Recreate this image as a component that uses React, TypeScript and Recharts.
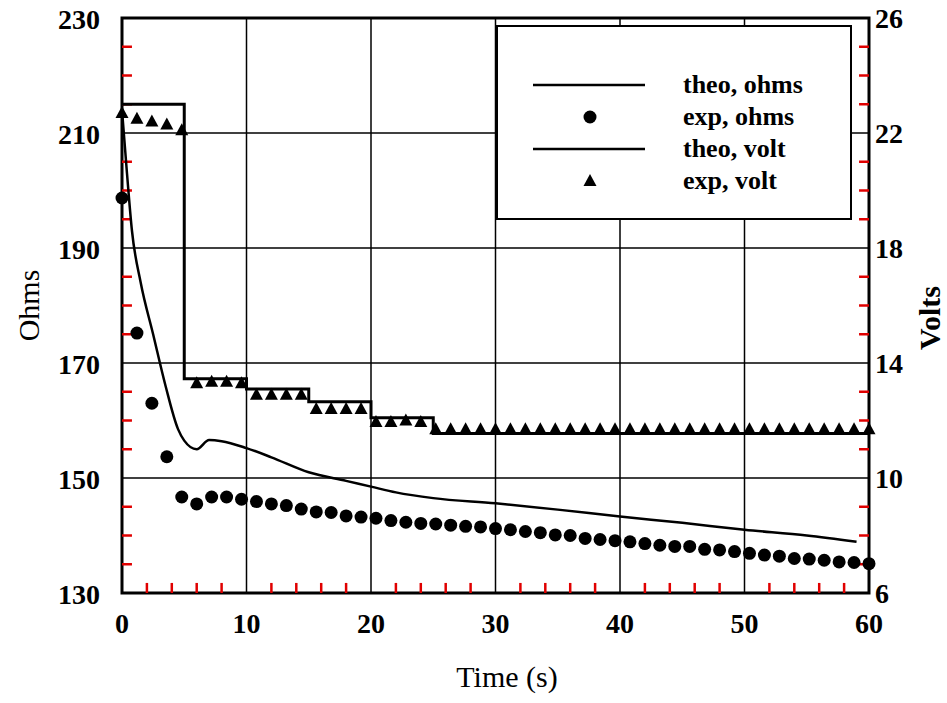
import React from 'react';
import { ComposedChart, Line, Scatter, XAxis, YAxis, ReferenceLine, ReferenceArea, Legend } from 'recharts';

const serif = '"Liberation Serif", "Times New Roman", serif';

// time (s) of the measured points
const expTimes = [
  0, 1.2, 2.4, 3.6, 4.8, 6, 7.2, 8.4, 9.6, 10.8,
  12, 13.2, 14.4, 15.6, 16.8, 18, 19.2, 20.4, 21.6, 22.8,
  24, 25.2, 26.4, 27.6, 28.8, 30, 31.2, 32.4, 33.6, 34.8,
  36, 37.2, 38.4, 39.6, 40.8, 42, 43.2, 44.4, 45.6, 46.8,
  48, 49.2, 50.4, 51.6, 52.8, 54, 55.2, 56.4, 57.6, 58.8, 60,
];
const expOhms = [
  198.7, 175.2, 163.0, 153.7, 146.7, 145.5, 146.7, 146.7, 146.3, 145.9,
  145.5, 145.2, 144.6, 144.1, 144.0, 143.4, 143.2, 143.0, 142.6, 142.3,
  142.1, 142.0, 141.8, 141.6, 141.5, 141.2, 141.0, 140.7, 140.5, 140.1,
  140.0, 139.5, 139.3, 139.1, 138.9, 138.6, 138.3, 138.1, 138.1, 137.6,
  137.5, 137.2, 136.9, 136.6, 136.4, 136.0, 135.9, 135.7, 135.4, 135.3, 135.1,
];
const expVolts = [
  22.7, 22.5, 22.4, 22.3, 22.1, 13.3, 13.35, 13.35, 13.3, 12.9,
  12.9, 12.9, 12.9, 12.4, 12.4, 12.4, 12.4, 11.95, 11.95, 12.0,
  11.95, 11.7, 11.7, 11.7, 11.7, 11.7, 11.7, 11.7, 11.7, 11.7,
  11.7, 11.7, 11.7, 11.7, 11.7, 11.7, 11.7, 11.7, 11.7, 11.7,
  11.7, 11.7, 11.7, 11.7, 11.7, 11.7, 11.7, 11.7, 11.7, 11.7, 11.7,
];

// theoretical curves
const theoOhmTimes = [0, 0.4, 0.8, 1.5, 2.5, 3.5, 4.5, 5, 6, 7, 8, 10, 12, 15, 18, 20, 22, 25, 30, 35, 40, 45, 50, 55, 59];
const theoOhms = [214, 203, 193, 184, 175, 166, 158.5, 156.5, 155, 156.6, 156.4, 155.2, 153.6, 151, 149.5, 148.5, 147.5, 146.5, 145.6, 144.5, 143.3, 142.2, 141, 140, 138.9];
const theoVoltTimes = [0, 5, 10, 15, 20, 25, 60];
const theoVolts = [23, 13.45, 13.1, 12.65, 12.1, 11.55, 11.55];

// axes
const xLabels = [0, 10, 20, 30, 40, 50, 60];
const xMinor = [2, 4, 6, 8, 12, 14, 16, 18, 22, 24, 26, 28, 32, 34, 36, 38, 42, 44, 46, 48, 52, 54, 56, 58];
const ohmLabels = [130, 150, 170, 190, 210, 230];
const ohmMinor = [135, 140, 145, 155, 160, 165, 175, 180, 185, 195, 200, 205, 215, 220, 225];
const voltLabels = [6, 10, 14, 18, 22, 26];
const voltMinor = [7, 8, 9, 11, 12, 13, 15, 16, 17, 19, 20, 21, 23, 24, 25];
const gridX = [10, 20, 30, 40, 50];
const gridOhm = [150, 170, 190, 210];
const legendNames = ['theo, ohms', 'exp, ohms', 'theo, volt', 'exp, volt'];

const expOhmData = expTimes.map((t, i) => ({ t, ohm: expOhms[i] }));
const expVoltData = expTimes.map((t, i) => ({ t, volt: expVolts[i] }));
const theoOhmData = theoOhmTimes.map((t, i) => ({ t, ohm: theoOhms[i] }));
const theoVoltData = theoVoltTimes.map((t, i) => ({ t, volt: theoVolts[i] }));

// minor tick length in axis units (about 10 px)
const TICK_T = 0.8;
const TICK_OHM = 1.75;
const TICK_COLOR = '#e00000';

const labelStyle = { fontFamily: serif, fontSize: 28, fontWeight: 700, fill: '#000' };

function LeftTick(props: any) {
  const { x, y, payload } = props;
  return <text x={x} y={y + 11} textAnchor="end" style={labelStyle}>{payload.value}</text>;
}

function RightTick(props: any) {
  const { x, y, payload } = props;
  return <text x={x} y={y + 10} textAnchor="start" style={labelStyle}>{payload.value}</text>;
}

function BottomTick(props: any) {
  const { x, y, payload } = props;
  return <text x={x} y={y} textAnchor="middle" style={labelStyle}>{payload.value}</text>;
}

function AxisTitle(props: any) {
  const { viewBox, text, dx, dy, rotate, bold } = props;
  const cx = viewBox.x + (dx ?? viewBox.width / 2);
  const cy = viewBox.y + (dy ?? viewBox.height / 2);
  return (
    <text
      x={cx}
      y={cy}
      textAnchor="middle"
      dominantBaseline={rotate ? 'central' : 'auto'}
      transform={rotate ? `rotate(-90, ${cx}, ${cy})` : undefined}
      style={{ fontFamily: serif, fontSize: 30, fontWeight: bold ? 700 : 400, fill: '#000' }}
    >
      {text}
    </text>
  );
}

function Dot(props: any) {
  const { cx, cy } = props;
  return <circle cx={cx} cy={cy} r={6.5} fill="#000" />;
}

function Tri(props: any) {
  const { cx, cy } = props;
  return <polygon points={`${cx},${cy - 7} ${cx + 6.5},${cy + 5} ${cx - 6.5},${cy + 5}`} fill="#000" />;
}

function LegendBox() {
  const rows = [60, 92, 124, 156];
  return (
    <svg width={356} height={195} style={{ display: 'block' }}>
      <rect x={1} y={1} width={354} height={193} fill="#fff" stroke="#000" strokeWidth={2} />
      <line x1={37} x2={149} y1={rows[0]} y2={rows[0]} stroke="#000" strokeWidth={2.5} />
      <circle cx={94} cy={rows[1]} r={6.5} fill="#000" />
      <line x1={37} x2={149} y1={rows[2]} y2={rows[2]} stroke="#000" strokeWidth={2.5} />
      <polygon points={`94,${rows[3] - 7} 100.5,${rows[3] + 5} 87.5,${rows[3] + 5}`} fill="#000" />
      {legendNames.map((name, i) => (
        <text key={name} x={187} y={rows[i] + 8} style={{ fontFamily: serif, fontSize: 26, fontWeight: 700, fill: '#000' }}>
          {name}
        </text>
      ))}
    </svg>
  );
}

export default function App() {
  return (
    <div style={{ position: 'absolute', left: 0, top: 0, background: '#fff' }}>
      <ComposedChart width={947} height={703} margin={{ top: 18, right: 0, bottom: 0, left: 0 }}>
        {gridX.map((v) => (
          <ReferenceLine key={'gx' + v} x={v} yAxisId="ohm" stroke="#000" strokeWidth={1.5} />
        ))}
        {gridOhm.map((v) => (
          <ReferenceLine key={'gy' + v} y={v} yAxisId="ohm" stroke="#000" strokeWidth={1.5} />
        ))}
        {xMinor.map((v) => (
          <ReferenceLine key={'mx' + v} yAxisId="ohm" segment={[{ x: v, y: 130 }, { x: v, y: 130 + TICK_OHM }]} stroke={TICK_COLOR} strokeWidth={2.5} />
        ))}
        {ohmMinor.map((v) => (
          <ReferenceLine key={'mo' + v} yAxisId="ohm" segment={[{ x: 0, y: v }, { x: TICK_T, y: v }]} stroke={TICK_COLOR} strokeWidth={2.5} />
        ))}
        {voltMinor.map((v) => (
          <ReferenceLine key={'mv' + v} yAxisId="volt" segment={[{ x: 60 - TICK_T, y: v }, { x: 60, y: v }]} stroke={TICK_COLOR} strokeWidth={2.5} />
        ))}
        <ReferenceArea x1={0} x2={60} y1={130} y2={230} yAxisId="ohm" fill="none" fillOpacity={0} stroke="#000" strokeWidth={3} />
        <XAxis
          dataKey="t"
          type="number"
          domain={[0, 60]}
          ticks={xLabels}
          interval={0}
          height={110}
          tickSize={0}
          tickMargin={40}
          tickLine={false}
          axisLine={false}
          tick={<BottomTick />}
          label={<AxisTitle text="Time (s)" dx={385} dy={94} />}
        />
        <YAxis
          yAxisId="ohm"
          type="number"
          domain={[130, 230]}
          ticks={ohmLabels}
          interval={0}
          width={122}
          tickSize={0}
          tickMargin={22}
          tickLine={false}
          axisLine={false}
          tick={<LeftTick />}
          label={<AxisTitle text="Ohms" dx={28} rotate />}
        />
        <YAxis
          yAxisId="volt"
          orientation="right"
          type="number"
          domain={[6, 26]}
          ticks={voltLabels}
          interval={0}
          width={78}
          tickSize={0}
          tickMargin={6}
          tickLine={false}
          axisLine={false}
          tick={<RightTick />}
          label={<AxisTitle text="Volts" dx={60} dy={300} rotate bold />}
        />
        <Legend
          layout="vertical"
          align="center"
          verticalAlign="middle"
          wrapperStyle={{ position: 'absolute', left: 496, top: 25, width: 356, height: 195 }}
          content={() => <LegendBox />}
        />
        <Line
          data={theoVoltData}
          dataKey="volt"
          yAxisId="volt"
          type="stepAfter"
          stroke="#000"
          strokeWidth={3}
          dot={false}
          isAnimationActive={false}
        />
        <Line
          data={theoOhmData}
          dataKey="ohm"
          yAxisId="ohm"
          type="monotone"
          stroke="#000"
          strokeWidth={2.5}
          dot={false}
          isAnimationActive={false}
        />
        <Scatter data={expOhmData} dataKey="ohm" yAxisId="ohm" shape={<Dot />} isAnimationActive={false} />
        <Scatter data={expVoltData} dataKey="volt" yAxisId="volt" shape={<Tri />} isAnimationActive={false} />
      </ComposedChart>
    </div>
  );
}
